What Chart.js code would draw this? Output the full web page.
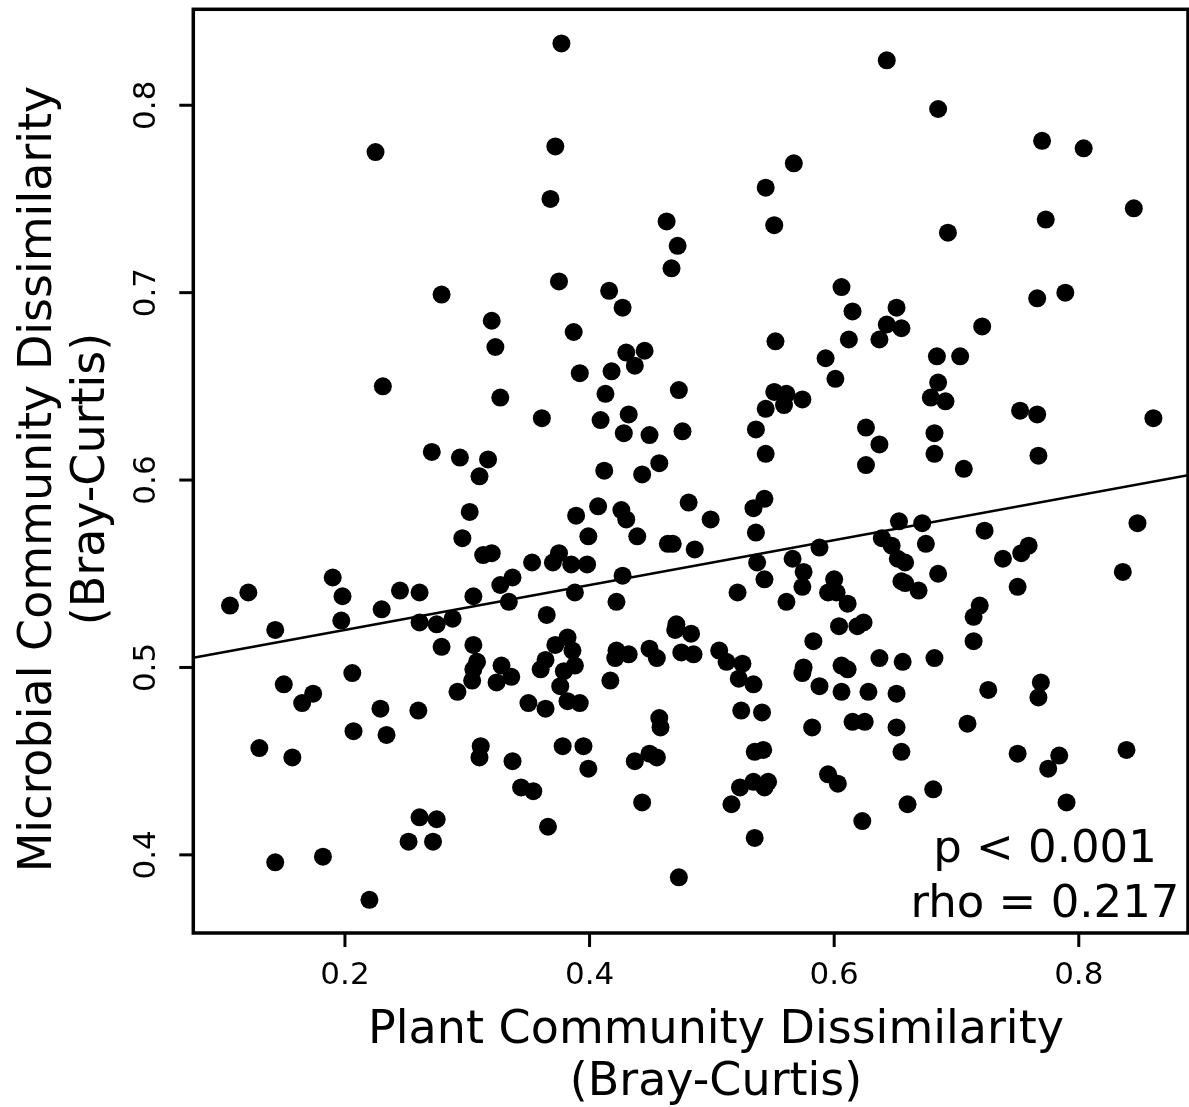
<!DOCTYPE html>
<html><head><meta charset="utf-8">
<script src="https://cdn.jsdelivr.net/npm/chart.js@4.4.1/dist/chart.umd.min.js"></script>
<style>html,body{margin:0;padding:0;background:#fff;} canvas{display:block;}</style>
</head><body>
<canvas id="c" width="1189" height="1107"></canvas>
<script>
const plantDissim = [
0.377,0.225,0.372,0.368,0.463,0.472,0.467,0.544,0.567,0.551,0.375,0.416,0.427,0.606,0.615,0.643,0.685,0.770,0.804,0.845,
0.773,0.693,0.766,0.789,0.651,0.279,0.320,0.323,0.327,0.231,0.271,0.294,0.317,0.310,0.302,0.296,0.313,0.320,0.353,0.190,
0.121,0.106,0.198,0.245,0.261,0.305,0.337,0.327,0.334,0.230,0.197,0.261,0.275,0.288,0.143,0.387,0.430,0.445,0.437,0.392,
0.418,0.413,0.361,0.409,0.432,0.428,0.449,0.473,0.476,0.552,0.612,0.593,0.601,0.551,0.561,0.574,0.559,0.544,0.536,0.544,
0.412,0.443,0.457,0.407,0.389,0.426,0.430,0.481,0.499,0.399,0.439,0.464,0.468,0.486,0.543,0.534,0.536,0.588,0.375,0.370,
0.385,0.398,0.427,0.388,0.422,0.365,0.521,0.537,0.543,0.566,0.575,0.574,0.561,0.600,0.595,0.602,0.611,0.643,0.655,0.637,
0.721,0.684,0.703,0.685,0.679,0.691,0.752,0.766,0.861,0.626,0.637,0.626,0.682,0.682,0.706,0.767,0.653,0.672,0.848,0.639,
0.647,0.675,0.723,0.652,0.658,0.685,0.655,0.658,0.669,0.738,0.753,0.759,0.750,0.836,0.719,0.714,0.206,0.150,0.174,0.165,
0.229,0.260,0.207,0.234,0.130,0.157,0.279,0.305,0.308,0.305,0.304,0.328,0.336,0.324,0.292,0.311,0.310,0.337,0.344,0.261,
0.275,0.252,0.272,0.143,0.182,0.220,0.471,0.483,0.470,0.382,0.386,0.372,0.364,0.360,0.388,0.379,0.376,0.350,0.364,0.382,
0.392,0.378,0.395,0.399,0.354,0.366,0.422,0.432,0.421,0.449,0.455,0.475,0.485,0.417,0.457,0.458,0.437,0.449,0.455,0.443,
0.473,0.506,0.512,0.525,0.522,0.534,0.524,0.541,0.535,0.542,0.534,0.546,0.523,0.543,0.516,0.535,0.583,0.604,0.619,0.575,
0.574,0.588,0.606,0.611,0.606,0.582,0.615,0.595,0.603,0.623,0.624,0.714,0.637,0.656,0.682,0.628,0.651,0.625,0.651,0.655,
0.709,0.726,0.769,0.767,0.750,0.784,0.775,0.839,0.681,0.660,0.790
];
const microbialDissim = [
0.833,0.775,0.778,0.750,0.738,0.725,0.713,0.756,0.769,0.736,0.706,0.701,0.692,0.703,0.690,0.824,0.798,0.781,0.777,0.745,
0.739,0.732,0.697,0.700,0.692,0.699,0.685,0.671,0.644,0.650,0.615,0.612,0.611,0.602,0.583,0.569,0.560,0.561,0.556,0.548,
0.540,0.533,0.538,0.541,0.540,0.538,0.548,0.544,0.535,0.531,0.525,0.524,0.523,0.526,0.520,0.679,0.668,0.669,0.661,0.657,
0.658,0.646,0.633,0.632,0.635,0.625,0.624,0.648,0.626,0.674,0.675,0.665,0.654,0.647,0.646,0.643,0.640,0.638,0.627,0.614,
0.605,0.603,0.609,0.586,0.581,0.584,0.579,0.588,0.579,0.570,0.570,0.566,0.566,0.563,0.590,0.585,0.572,0.564,0.561,0.556,
0.555,0.555,0.549,0.540,0.535,0.528,0.540,0.556,0.547,0.558,0.551,0.543,0.535,0.547,0.540,0.540,0.534,0.683,0.681,0.675,
0.682,0.666,0.666,0.652,0.644,0.642,0.637,0.635,0.633,0.628,0.619,0.608,0.625,0.614,0.606,0.613,0.578,0.577,0.577,0.569,
0.565,0.566,0.573,0.558,0.556,0.550,0.546,0.545,0.541,0.558,0.561,0.565,0.543,0.551,0.533,0.527,0.497,0.491,0.486,0.481,
0.478,0.477,0.466,0.464,0.457,0.452,0.511,0.512,0.503,0.499,0.493,0.501,0.495,0.492,0.487,0.458,0.452,0.450,0.436,0.420,
0.419,0.407,0.407,0.396,0.399,0.376,0.523,0.518,0.520,0.516,0.509,0.512,0.504,0.499,0.501,0.498,0.490,0.481,0.478,0.482,
0.481,0.458,0.458,0.446,0.434,0.415,0.509,0.507,0.505,0.510,0.505,0.508,0.507,0.493,0.473,0.468,0.450,0.454,0.452,0.428,
0.388,0.509,0.503,0.502,0.494,0.491,0.477,0.476,0.455,0.456,0.439,0.439,0.436,0.436,0.427,0.409,0.514,0.522,0.522,0.500,
0.497,0.490,0.501,0.499,0.487,0.468,0.471,0.443,0.438,0.418,0.524,0.514,0.505,0.503,0.505,0.487,0.486,0.471,0.468,0.455,
0.470,0.488,0.492,0.484,0.454,0.453,0.446,0.456,0.435,0.427,0.428
];
const xTickValues = [0.2, 0.4, 0.6, 0.8];
const xTickLabels = ['0.2', '0.4', '0.6', '0.8'];
const yTickValues = [0.4, 0.5, 0.6, 0.7, 0.8];
const yTickLabels = ['0.4', '0.5', '0.6', '0.7', '0.8'];
const xTitleLines = ['Plant Community Dissimilarity', '(Bray-Curtis)'];
const yTitleLines = ['Microbial Community Dissimilarity', '(Bray-Curtis)'];
const statsLines = ['p < 0.001', 'rho = 0.217'];
const fitIntercept = 0.4961;
const fitSlope = 0.1197;
const xRange = [0.076, 0.8893];
const yRange = [0.3583, 0.8512];

const points = plantDissim.map((x, i) => ({x: x, y: microbialDissim[i]}));
const fitLine = xRange.map(x => ({x: x, y: fitIntercept + fitSlope * x}));

const FONT = '"DejaVu Sans", "Liberation Sans", sans-serif';

const decorPlugin = {
  id: 'decor',
  afterDraw(chart) {
    const ctx = chart.ctx;
    const a = chart.chartArea;
    const xs = chart.scales.x, ys = chart.scales.y;
    ctx.save();
    ctx.strokeStyle = '#000';
    ctx.fillStyle = '#000';
    // box
    ctx.lineWidth = 3.5;
    ctx.strokeRect(a.left, a.top, a.right - a.left, a.bottom - a.top);
    // x ticks
    ctx.lineWidth = 3;
    ctx.font = '31px ' + FONT;
    ctx.textAlign = 'center';
    ctx.textBaseline = 'alphabetic';
    xTickValues.forEach((v, i) => {
      const px = xs.getPixelForValue(v);
      ctx.beginPath(); ctx.moveTo(px, a.bottom); ctx.lineTo(px, a.bottom + 14); ctx.stroke();
      ctx.fillText(xTickLabels[i], px, a.bottom + 51);
    });
    // y ticks
    yTickValues.forEach((v, i) => {
      const py = ys.getPixelForValue(v);
      ctx.beginPath(); ctx.moveTo(a.left - 14, py); ctx.lineTo(a.left, py); ctx.stroke();
      ctx.save();
      ctx.translate(a.left - 38, py);
      ctx.rotate(-Math.PI / 2);
      ctx.fillText(yTickLabels[i], 0, 0);
      ctx.restore();
    });
    // titles
    ctx.font = '46px ' + FONT;
    ctx.fillText(xTitleLines[0], 716, 1043);
    ctx.fillText(xTitleLines[1], 716, 1095);
    ctx.save();
    ctx.translate(51, 479); ctx.rotate(-Math.PI / 2);
    ctx.fillText(yTitleLines[0], 0, 0);
    ctx.restore();
    ctx.save();
    ctx.translate(104, 479); ctx.rotate(-Math.PI / 2);
    ctx.fillText(yTitleLines[1], 0, 0);
    ctx.restore();
    // stats
    ctx.font = '45px ' + FONT;
    ctx.fillText(statsLines[0], 1045, 862);
    ctx.fillText(statsLines[1], 1045, 917);
    ctx.restore();
  }
};

new Chart(document.getElementById('c'), {
  type: 'scatter',
  data: {
    datasets: [
      {
        type: 'scatter',
        data: points,
        backgroundColor: '#000',
        borderColor: '#000',
        pointRadius: 9,
        borderWidth: 0,
        pointHoverRadius: 9
      },
      {
        type: 'line',
        data: fitLine,
        borderColor: '#000',
        borderWidth: 2.6,
        pointRadius: 0,
        fill: false,
        tension: 0
      }
    ]
  },
  options: {
    responsive: false,
    animation: false,
    devicePixelRatio: 1,
    layout: { autoPadding: false, padding: { left: 193.3, right: 1, top: 9.3, bottom: 174 } },
    plugins: { legend: { display: false }, tooltip: { enabled: false } },
    scales: {
      x: { type: 'linear', min: xRange[0], max: xRange[1], display: false },
      y: { type: 'linear', min: yRange[0], max: yRange[1], display: false }
    }
  },
  plugins: [decorPlugin]
});
</script>
</body></html>
